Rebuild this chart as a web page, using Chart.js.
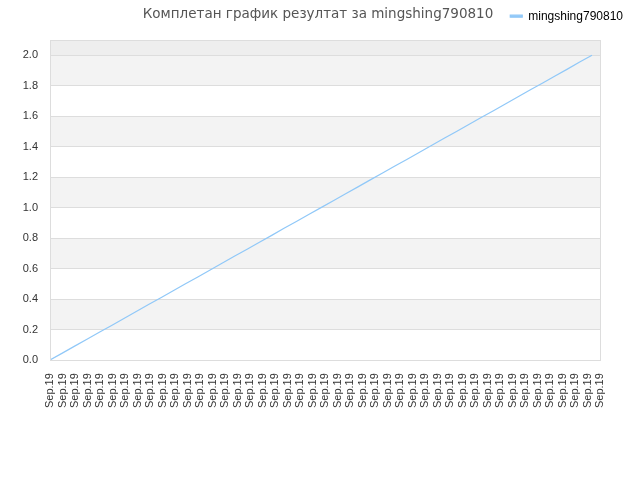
<!DOCTYPE html>
<html>
<head>
<meta charset="utf-8">
<script src="https://cdn.jsdelivr.net/npm/chart.js@4/dist/chart.umd.min.js"></script>
<style>
  html, body { margin: 0; padding: 0; background: #ffffff; }
  #wrap { width: 640px; height: 480px; position: relative; }
</style>
</head>
<body>
<div id="wrap"><canvas id="c" width="640" height="480"></canvas></div>
<script>
const chartTitle = 'Комплетан график резултат за mingshing790810';
const seriesName = 'mingshing790810';
const categories = [
  'Sep.19','Sep.19','Sep.19','Sep.19','Sep.19','Sep.19','Sep.19','Sep.19','Sep.19',
  'Sep.19','Sep.19','Sep.19','Sep.19','Sep.19','Sep.19','Sep.19','Sep.19','Sep.19',
  'Sep.19','Sep.19','Sep.19','Sep.19','Sep.19','Sep.19','Sep.19','Sep.19','Sep.19',
  'Sep.19','Sep.19','Sep.19','Sep.19','Sep.19','Sep.19','Sep.19','Sep.19','Sep.19',
  'Sep.19','Sep.19','Sep.19','Sep.19','Sep.19','Sep.19','Sep.19','Sep.19','Sep.19'
];
const seriesValues = [
  0.000, 0.045, 0.091, 0.136, 0.182, 0.227, 0.273, 0.318, 0.364,
  0.409, 0.455, 0.500, 0.545, 0.591, 0.636, 0.682, 0.727, 0.773,
  0.818, 0.864, 0.909, 0.955, 1.000, 1.045, 1.091, 1.136, 1.182,
  1.227, 1.273, 1.318, 1.364, 1.409, 1.455, 1.500, 1.545, 1.591,
  1.636, 1.682, 1.727, 1.773, 1.818, 1.864, 1.909, 1.955, 2.000
];
const yMin = 0;
const yMax = 2.1;
const yStep = 0.2;
const shadedBands = [[0.2, 0.4], [0.6, 0.8], [1.0, 1.2], [1.4, 1.6], [1.8, 2.0]];
const topBand = [2.0, 2.1];

const bandsPlugin = {
  id: 'bands',
  beforeDraw(chart) {
    const { ctx, chartArea: a, scales: { y } } = chart;
    ctx.save();
    ctx.fillStyle = '#f3f3f3';
    shadedBands.forEach(([lo, hi]) => {
      const t = y.getPixelForValue(hi), b = y.getPixelForValue(lo);
      ctx.fillRect(a.left, t, a.right - a.left, b - t);
    });
    ctx.fillStyle = '#eeeeee';
    const t = y.getPixelForValue(topBand[1]), b = y.getPixelForValue(topBand[0]);
    ctx.fillRect(a.left, t, a.right - a.left, b - t);
    ctx.restore();
  },
  afterDraw(chart) {
    const { ctx, chartArea: a } = chart;
    ctx.save();
    ctx.strokeStyle = '#dddddd';
    ctx.lineWidth = 1;
    ctx.strokeRect(Math.round(a.left) + 0.5, Math.round(a.top) + 0.5,
      Math.round(a.right - a.left), Math.round(a.bottom - a.top));
    ctx.restore();
  }
};

new Chart(document.getElementById('c'), {
  type: 'line',
  data: {
    datasets: [{
      label: seriesName,
      data: seriesValues.map((v, i) => ({ x: i, y: v })),
      borderColor: '#90c8f8',
      backgroundColor: '#90c8f8',
      borderWidth: 1.2,
      pointRadius: 0,
      tension: 0,
      fill: false,
      xAxisID: 'x',
      yAxisID: 'y'
    }]
  },
  options: {
    responsive: false,
    animation: false,
    devicePixelRatio: 1,
    layout: { padding: { left: 0, right: 4, top: 0, bottom: 0 } },
    plugins: {
      title: {
        display: true,
        text: chartTitle,
        color: '#555555',
        font: { family: 'DejaVu Sans', size: 13.5, weight: 'normal' },
        padding: { top: 6, bottom: -25 }
      },
      legend: {
        display: true,
        position: 'top',
        align: 'end',
        weight: 1600,
        labels: {
          boxWidth: 12,
          boxHeight: 2,
          padding: 13,
          color: '#000000',
          font: { family: 'Liberation Sans', size: 12 }
        }
      },
      subtitle: {
        display: true,
        text: '',
        padding: { top: 0, bottom: -7 },
        font: { size: 10 }
      },
      tooltip: { enabled: false }
    },
    scales: {
      x: {
        type: 'linear',
        min: 0,
        max: 44.65,
        display: true,
        grid: { display: false },
        border: { display: false },
        ticks: { display: false },
        afterFit: (s) => { s.height = 0; }
      },
      xLabels: {
        type: 'linear',
        position: 'bottom',
        min: 0,
        max: categories.length - 1,
        grid: { display: false },
        border: { display: false },
        ticks: {
          stepSize: 1,
          autoSkip: false,
          includeBounds: false,
          minRotation: 90,
          maxRotation: 90,
          padding: 8,
          color: '#333333',
          font: { family: 'Liberation Sans', size: 11 },
          callback: (v) => categories[v]
        },
        afterFit: (s) => { s.height = 120; }
      },
      y: {
        min: yMin,
        max: yMax,
        grid: { color: '#dddddd', drawTicks: false },
        border: { display: false },
        ticks: {
          stepSize: yStep,
          includeBounds: false,
          padding: 12,
          color: '#333333',
          font: { family: 'Liberation Sans', size: 11 },
          callback: (v) => Number(v).toFixed(1)
        },
        afterFit: (s) => { s.width = 50; }
      },
      yRight: {
        position: 'right',
        min: yMin,
        max: yMax,
        grid: { display: false },
        border: { display: false },
        ticks: { display: false },
        afterFit: (s) => { s.width = 36; }
      }
    }
  },
  plugins: [bandsPlugin]
});
</script>
</body>
</html>
